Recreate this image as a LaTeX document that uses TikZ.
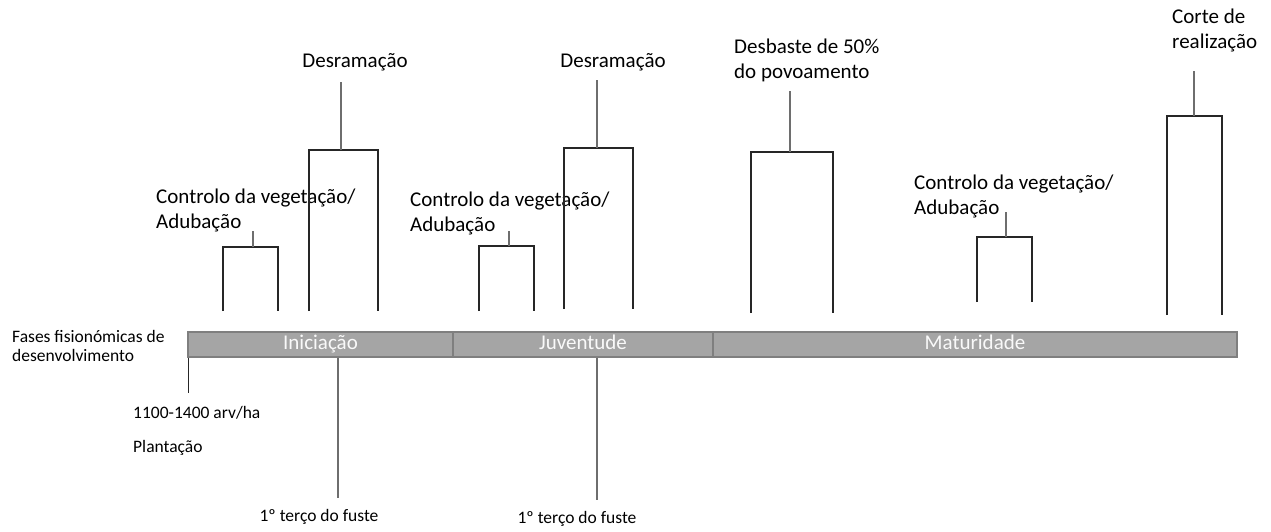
\documentclass[tikz,border=0pt]{standalone}
\usepackage{fontspec}
\setmainfont{Carlito}
\usetikzlibrary{positioning, calc}

\definecolor{barfill}{HTML}{A5A5A5}
\definecolor{barline}{HTML}{7F7F7F}
\definecolor{stemgray}{HTML}{6E6E6E}

\begin{document}
\begin{tikzpicture}[
    x=1pt, y=-1pt,
    phase/.style={draw=barline, line width=1.5pt, fill=barfill, minimum height=25pt, inner sep=0pt, text height=14pt, text depth=4pt, text=white!95!gray, font=\fontsize{21}{25}\selectfont},
    task/.style={align=left, inner sep=0pt, font=\fontsize{21}{25}\selectfont},
    note/.style={align=left, inner sep=0pt, font=\fontsize{17.5}{19}\selectfont},
    bracket/.style={draw=black!85, line width=1.1pt},
    stem/.style={draw=stemgray, line width=1.1pt}
]
\useasboundingbox (0,0) rectangle (1271,531);

% Phase bar
\node[phase, minimum width=265pt] (ini) at (320.5,344.5) {Iniciação};
\node[phase, minimum width=260pt] (juv) at (583,344.5) {Juventude};
\node[phase, minimum width=524pt] (mat) at (975,344.5) {Maturidade};

\node[note, anchor=west] (fases) at (12,346) {Fases fisionómicas de\\desenvolvimento};

% Labels above
\node[task, anchor=west] (ctrlA) at (156,210) {Controlo da vegetação/\\Adubação};
\node[task] (desrA) at (355,62) {Desramação};
\node[task, anchor=west] (ctrlB) at (410,213) {Controlo da vegetação/\\Adubação};
\node[task] (desrB) at (613,62) {Desramação};
\node[task, anchor=west] (desb) at (734,60.5) {Desbaste de 50\%\\do povoamento};
\node[task, anchor=west] (ctrlC) at (914,196.5) {Controlo da vegetação/\\Adubação};
\node[task, anchor=west] (corte) at (1172,30.5) {Corte de\\realização};

% Brackets
\coordinate (topA) at (253,247);
\coordinate (tipA) at (253,231);
\draw[bracket] (223,311) |- (278,247) -- (278,311);
\draw[stem] (topA) -- (tipA);

\coordinate (topB) at (341,150);
\coordinate (tipB) at (341,82);
\draw[bracket] (309,311) |- (378,150) -- (378,311);
\draw[stem] (topB) -- (tipB);

\coordinate (topC) at (509,246);
\coordinate (tipC) at (509,231);
\draw[bracket] (479,311) |- (534,246) -- (534,311);
\draw[stem] (topC) -- (tipC);

\coordinate (topD) at (597,148);
\coordinate (tipD) at (597,80);
\draw[bracket] (564,309) |- (633,148) -- (633,309);
\draw[stem] (topD) -- (tipD);

\coordinate (topE) at (790,152);
\coordinate (tipE) at (790,91);
\draw[bracket] (751,313) |- (833,152) -- (833,313);
\draw[stem] (topE) -- (tipE);

\coordinate (topF) at (1006,237);
\coordinate (tipF) at (1006,212);
\draw[bracket] (977,302) |- (1032,237) -- (1032,302);
\draw[stem] (topF) -- (tipF);

\coordinate (topG) at (1194,116);
\coordinate (tipG) at (1194,71);
\draw[bracket] (1167,315) |- (1222,116) -- (1222,315);
\draw[stem] (topG) -- (tipG);

% Below the bar
\coordinate (plant) at (188.5,393);
\draw[bracket] (plant |- ini.south) -- (plant);
\node[note, anchor=west] (dens) at (133,413) {1100-1400 arv/ha};
\node[note, anchor=west] (plan) at (133,448) {Plantação};

\coordinate (cutA) at (338,498);
\draw[stem] (cutA |- ini.south) -- (cutA);
\node[note] (terA) at (319,517) {1º terço do fuste};

\coordinate (cutB) at (597,500);
\draw[stem] (cutB |- juv.south) -- (cutB);
\node[note] (terB) at (577,519) {1º terço do fuste};

\end{tikzpicture}
\end{document}
